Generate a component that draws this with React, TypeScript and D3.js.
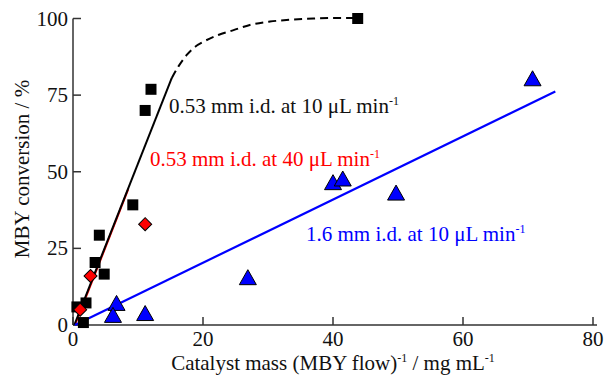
import { FC } from 'react'
import * as d3 from 'd3'

// readings taken off the figure: x = catalyst mass / MBY flow (mg mL^-1), y = conversion (%)
const squares: [number, number][] = [
  [43.8, 100], [12.0, 76.9], [11.1, 70.0], [9.2, 39.2], [4.05, 29.3],
  [3.4, 20.4], [4.8, 16.6], [2.0, 7.2], [0.6, 5.9], [1.6, 0.8]
]
const diamonds: [number, number][] = [[11.1, 32.9], [2.7, 16.0], [1.1, 5.0]]
const triangles: [number, number][] = [
  [70.7, 80.5], [49.7, 43.2], [40.0, 46.6], [41.5, 47.8], [26.9, 15.6],
  [11.1, 3.9], [6.7, 7.2], [6.15, 3.3]
]
const blackFit: [number, number][] = [[0.2, 0], [15.2, 80.6]]
const blackTrend: [number, number][] = [
  [15.2, 80.6], [16.2, 84.3], [17.5, 88.1], [18.8, 90.8], [20.05, 92.4],
  [22.35, 94.6], [24.7, 96.2], [27.2, 97.9], [30.3, 99.0], [33.5, 99.6],
  [37.0, 100.0], [40.6, 100.2], [43.8, 100.2]
]
const redFit: [number, number][] = [[0.3, 0], [8.5, 44.3]]
const blueFit: [number, number][] = [[0.3, 0], [74.2, 76.2]]
const xTicks = [0, 20, 40, 60, 80]
const yTicks = [0, 25, 50, 75, 100]

const width = 605
const height = 378
const font = "'Liberation Serif', 'DejaVu Serif', serif"

const App: FC = () => {
  const x = d3.scaleLinear().domain([0, 80]).range([73, 593])
  const y = d3.scaleLinear().domain([0, 100]).range([325, 18.5])

  const line = d3.line<[number, number]>().x(d => x(d[0])).y(d => y(d[1]))
  const curve = d3.line<[number, number]>()
    .x(d => x(d[0])).y(d => y(d[1]))
    .curve(d3.curveMonotoneX)

  const square = d3.symbol().type(d3.symbolSquare).size(121)()
  const diamond = d3.symbol().type(d3.symbolSquare).size(85)()
  // triangle centred on its bounding box, 17 wide x 15 tall
  const tri = 'M0,-7.5L8.5,7.5L-8.5,7.5Z'

  const sup = (s: string) => (
    <tspan fontSize={12} dy={-8}>{s}</tspan>
  )

  return (
    <svg width={width} height={height} style={{ position: 'absolute', left: 0, top: 0, fontFamily: font }}>
      <rect width={width} height={height} fill="white" />

      {/* axes */}
      <g stroke="#333" strokeWidth={1.5} fill="none">
        <line x1={x(0)} x2={x(0)} y1={y(0)} y2={y(100)} />
        <line x1={x(0)} x2={597} y1={y(0)} y2={y(0)} />
        {yTicks.map(t => (
          <line key={t} x1={x(0)} x2={x(0) + 8} y1={y(t)} y2={y(t)} />
        ))}
        {xTicks.map(t => (
          <line key={t} x1={x(t)} x2={x(t)} y1={y(0)} y2={y(0) - 8} />
        ))}
      </g>
      <g fontSize={21} fill="#111" style={{ fontFamily: font }}>
        {yTicks.map(t => (
          <text key={t} x={x(0) - 5} y={y(t) + 7} textAnchor="end">{t}</text>
        ))}
        {xTicks.map(t => (
          <text key={t} x={x(t)} y={346} textAnchor="middle">{t}</text>
        ))}
      </g>

      <text fontSize={21} fill="#111" transform="translate(29,169) rotate(-90)" textAnchor="middle">
        MBY conversion / %
      </text>
      <text fontSize={21} fill="#111" x={333} y={370} textAnchor="middle">
        Catalyst mass (MBY flow){sup('-1')}<tspan dy={8}> / mg mL</tspan>{sup('-1')}
      </text>

      {/* fits */}
      <path d={line(redFit) ?? ''} stroke="#ff0000" strokeWidth={2} fill="none" />
      <path d={line(blackFit) ?? ''} stroke="#000" strokeWidth={2} fill="none" />
      <path d={curve(blackTrend) ?? ''} stroke="#000" strokeWidth={2} fill="none" strokeDasharray="8,5" />
      <path d={line(blueFit) ?? ''} stroke="#0000ff" strokeWidth={2.2} fill="none" />

      {/* markers */}
      {squares.map((d, i) => (
        <path key={i} d={square ?? ''} transform={`translate(${x(d[0])},${y(d[1])})`} fill="#000" />
      ))}
      {diamonds.map((d, i) => (
        <path key={i} d={diamond ?? ''} transform={`translate(${x(d[0])},${y(d[1])}) rotate(45)`}
          fill="#ff0000" stroke="#000" strokeWidth={1} />
      ))}
      {triangles.map((d, i) => (
        <path key={i} d={tri} transform={`translate(${x(d[0])},${y(d[1])})`}
          fill="#0000ff" stroke="#000" strokeWidth={1} />
      ))}

      {/* labels */}
      <text fontSize={21} fill="#111" x={169} y={113}>
        0.53 mm i.d. at 10 μL min{sup('-1')}
      </text>
      <text fontSize={21} fill="#ff0000" x={150} y={166}>
        0.53 mm i.d. at 40 μL min{sup('-1')}
      </text>
      <text fontSize={21} fill="#0000ff" x={306} y={240.5}>
        1.6 mm i.d. at 10 μL min{sup('-1')}
      </text>
    </svg>
  )
}

export default App
